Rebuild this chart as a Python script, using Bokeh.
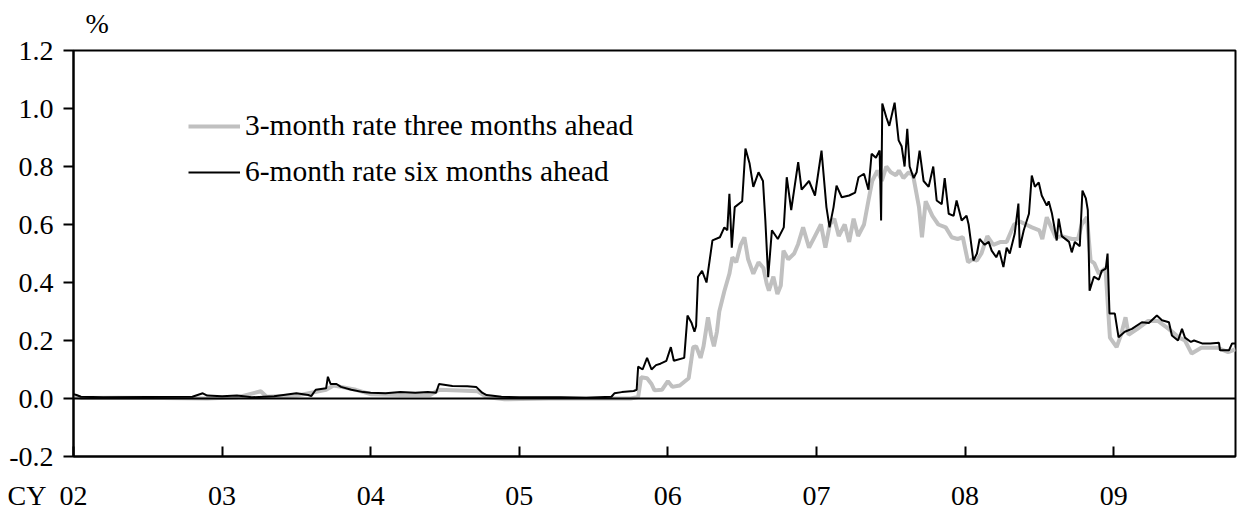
from bokeh.plotting import figure
from bokeh.models import (Range1d, FixedTicker, Span, Label, Legend, LegendItem)
from bokeh.embed import file_html
from bokeh.resources import INLINE

# ---- data (decimal years, percent) ----
six_month_t = [
    2002.000, 2002.02, 2002.05, 2002.2, 2002.5, 2002.8, 2002.87, 2002.9, 2003.0, 2003.1,
    2003.2, 2003.35, 2003.5, 2003.58, 2003.6, 2003.63, 2003.7, 2003.712, 2003.73, 2003.77,
    2003.8, 2003.87, 2003.95, 2004.0, 2004.1, 2004.2, 2004.3, 2004.385, 2004.44, 2004.46,
    2004.55, 2004.65, 2004.71, 2004.75, 2004.78, 2004.88, 2005.0, 2005.28, 2005.45, 2005.62,
    2005.64, 2005.69, 2005.77, 2005.79, 2005.80, 2005.83, 2005.86, 2005.89, 2005.92, 2005.95,
    2005.99, 2006.02, 2006.04, 2006.11, 2006.132, 2006.16, 2006.179, 2006.19, 2006.203, 2006.23,
    2006.26, 2006.30, 2006.35, 2006.38, 2006.40, 2006.414, 2006.43, 2006.45, 2006.50, 2006.522,
    2006.55, 2006.575, 2006.61, 2006.64, 2006.656, 2006.675, 2006.70, 2006.74, 2006.78, 2006.80,
    2006.83, 2006.85, 2006.877, 2006.90, 2006.95, 2006.99, 2007.034, 2007.067, 2007.088, 2007.115,
    2007.135, 2007.17, 2007.22, 2007.26, 2007.283, 2007.32, 2007.35, 2007.371, 2007.40, 2007.425,
    2007.435, 2007.443, 2007.47, 2007.49, 2007.526, 2007.553, 2007.573, 2007.593, 2007.611, 2007.627,
    2007.654, 2007.674, 2007.694, 2007.721, 2007.755, 2007.786, 2007.809, 2007.843, 2007.863, 2007.890,
    2007.923, 2007.943, 2007.977, 2008.01, 2008.024, 2008.056, 2008.08, 2008.098, 2008.132, 2008.159,
    2008.179, 2008.21, 2008.23, 2008.258, 2008.28, 2008.301, 2008.334, 2008.359, 2008.368, 2008.395,
    2008.43, 2008.449, 2008.47, 2008.496, 2008.516, 2008.55, 2008.563, 2008.584, 2008.617, 2008.63,
    2008.651, 2008.70, 2008.718, 2008.739, 2008.772, 2008.790, 2008.813, 2008.826, 2008.838, 2008.867,
    2008.90, 2008.92, 2008.947, 2008.959, 2008.972, 2009.008, 2009.033, 2009.075, 2009.123, 2009.19,
    2009.237, 2009.291, 2009.325, 2009.372, 2009.392, 2009.433, 2009.460, 2009.48, 2009.52, 2009.541,
    2009.595, 2009.65, 2009.709, 2009.716, 2009.776, 2009.797, 2009.82,
]
six_month_v = [
    0.015, 0.012, 0.006, 0.004, 0.005, 0.006, 0.018, 0.010, 0.008, 0.010,
    0.004, 0.008, 0.018, 0.012, 0.008, 0.030, 0.035, 0.075, 0.050, 0.050,
    0.040, 0.030, 0.022, 0.020, 0.018, 0.022, 0.020, 0.022, 0.020, 0.050,
    0.043, 0.042, 0.040, 0.020, 0.012, 0.006, 0.004, 0.004, 0.003, 0.006,
    0.018, 0.022, 0.026, 0.030, 0.110, 0.100, 0.140, 0.100, 0.115, 0.120,
    0.130, 0.177, 0.130, 0.140, 0.286, 0.260, 0.230, 0.250, 0.420, 0.440,
    0.400, 0.545, 0.556, 0.590, 0.580, 0.706, 0.520, 0.660, 0.680, 0.862,
    0.810, 0.730, 0.780, 0.750, 0.614, 0.418, 0.580, 0.550, 0.590, 0.763,
    0.650, 0.720, 0.815, 0.720, 0.750, 0.700, 0.855, 0.660, 0.590, 0.660,
    0.734, 0.694, 0.700, 0.710, 0.763, 0.775, 0.720, 0.844, 0.830, 0.855,
    0.614, 1.017, 0.970, 0.940, 1.020, 0.890, 0.870, 0.800, 0.930, 0.800,
    0.760, 0.780, 0.855, 0.750, 0.730, 0.800, 0.683, 0.670, 0.760, 0.637,
    0.630, 0.683, 0.614, 0.630, 0.600, 0.476, 0.500, 0.550, 0.530, 0.540,
    0.510, 0.487, 0.510, 0.453, 0.520, 0.500, 0.568, 0.672, 0.520, 0.580,
    0.637, 0.769, 0.730, 0.745, 0.700, 0.665, 0.680, 0.640, 0.545, 0.620,
    0.560, 0.540, 0.504, 0.540, 0.525, 0.717, 0.690, 0.650, 0.372, 0.420,
    0.410, 0.440, 0.448, 0.500, 0.293, 0.293, 0.211, 0.230, 0.240, 0.263,
    0.260, 0.286, 0.270, 0.263, 0.217, 0.200, 0.240, 0.210, 0.195, 0.200,
    0.190, 0.190, 0.192, 0.166, 0.166, 0.190, 0.190,
]

three_month_t = [
    2002.000, 2002.05, 2002.3, 2002.6, 2002.9, 2003.1, 2003.26, 2003.3, 2003.5, 2003.6,
    2003.7, 2003.75, 2003.8, 2003.9, 2004.0, 2004.2, 2004.4, 2004.46, 2004.6, 2004.72,
    2004.78, 2004.9, 2005.2, 2005.5, 2005.75, 2005.80, 2005.82, 2005.86, 2005.89, 2005.91,
    2005.96, 2006.00, 2006.03, 2006.08, 2006.14, 2006.17, 2006.19, 2006.22, 2006.24, 2006.27,
    2006.29, 2006.31, 2006.33, 2006.346, 2006.38, 2006.414, 2006.434, 2006.46, 2006.49, 2006.515,
    2006.54, 2006.575, 2006.61, 2006.643, 2006.665, 2006.68, 2006.71, 2006.737, 2006.76, 2006.778,
    2006.81, 2006.85, 2006.877, 2006.91, 2006.95, 2006.99, 2007.03, 2007.06, 2007.09, 2007.12,
    2007.15, 2007.19, 2007.22, 2007.25, 2007.28, 2007.32, 2007.35, 2007.375, 2007.41, 2007.44,
    2007.47, 2007.50, 2007.535, 2007.555, 2007.585, 2007.62, 2007.65, 2007.69, 2007.71, 2007.735,
    2007.78, 2007.82, 2007.87, 2007.91, 2007.95, 2007.985, 2008.02, 2008.05, 2008.08, 2008.11,
    2008.15, 2008.19, 2008.24, 2008.28, 2008.33, 2008.37, 2008.41, 2008.45, 2008.50, 2008.52,
    2008.55, 2008.58, 2008.61, 2008.65, 2008.72, 2008.76, 2008.785, 2008.82, 2008.845, 2008.87,
    2008.90, 2008.945, 2008.975, 2009.02, 2009.05, 2009.08, 2009.10, 2009.16, 2009.23, 2009.30,
    2009.37, 2009.44, 2009.48, 2009.525, 2009.59, 2009.70, 2009.77, 2009.82,
]
three_month_v = [
    0.008, 0.002, 0.003, 0.002, 0.000, 0.004, 0.025, 0.006, 0.010, 0.020,
    0.030, 0.045, 0.040, 0.030, 0.015, 0.012, 0.012, 0.030, 0.028, 0.025,
    0.005, -0.003, 0.000, 0.000, 0.000, 0.005, 0.073, 0.070, 0.050, 0.028,
    0.030, 0.060, 0.040, 0.045, 0.070, 0.177, 0.180, 0.140, 0.180, 0.280,
    0.220, 0.180, 0.230, 0.300, 0.370, 0.430, 0.487, 0.470, 0.530, 0.556,
    0.480, 0.430, 0.470, 0.450, 0.396, 0.372, 0.420, 0.360, 0.390, 0.510,
    0.480, 0.500, 0.533, 0.590, 0.520, 0.560, 0.600, 0.520, 0.600, 0.620,
    0.560, 0.600, 0.540, 0.620, 0.560, 0.600, 0.683, 0.750, 0.786, 0.750,
    0.800, 0.780, 0.770, 0.786, 0.760, 0.780, 0.770, 0.660, 0.556, 0.680,
    0.630, 0.600, 0.590, 0.556, 0.550, 0.556, 0.470, 0.480, 0.476, 0.500,
    0.560, 0.530, 0.540, 0.540, 0.600, 0.610, 0.600, 0.590, 0.580, 0.550,
    0.625, 0.590, 0.555, 0.560, 0.550, 0.550, 0.600, 0.625, 0.476, 0.466,
    0.430, 0.450, 0.210, 0.177, 0.220, 0.280, 0.220, 0.240, 0.267, 0.267,
    0.240, 0.210, 0.200, 0.155, 0.175, 0.175, 0.160, 0.170,
]

year_ticks = [2002, 2003, 2004, 2005, 2006, 2007, 2008, 2009]
year_labels = ["02", "03", "04", "05", "06", "07", "08", "09"]
y_ticks = [-0.2, 0.0, 0.2, 0.4, 0.6, 0.8, 1.0, 1.2]
series_names = ["3-month rate three months ahead", "6-month rate six months ahead"]
unit_text = "%"
period_text = "CY"

FONT = "Liberation Serif"
FS = "28px"

p = figure(frame_width=1162, frame_height=406,
           x_range=Range1d(2002.0, 2009.82), y_range=Range1d(-0.2, 1.2),
           output_backend="svg", toolbar_location=None,
           min_border_left=73, min_border_right=2, min_border_top=50, min_border_bottom=55)
p.background_fill_color = "white"
p.border_fill_color = "white"
p.outline_line_color = "black"
p.outline_line_width = 2
p.xgrid.visible = False
p.ygrid.visible = False

r3 = p.line(three_month_t, three_month_v, line_color="#c0c0c0", line_width=4)
r6 = p.line(six_month_t, six_month_v, line_color="black", line_width=2)

p.add_layout(Span(location=0, dimension="width", line_color="black", line_width=2))

# axes
xa = p.xaxis[0]
xa.ticker = FixedTicker(ticks=year_ticks)
xa.major_label_overrides = {t: l for t, l in zip(year_ticks, year_labels)}
xa.major_tick_in = 10
xa.major_tick_out = 0
xa.minor_tick_line_color = None
xa.axis_line_width = 2
xa.major_tick_line_width = 2
xa.major_label_standoff = 30
xa.major_label_text_font = FONT
xa.major_label_text_font_size = FS
xa.major_label_text_color = "black"

ya = p.yaxis[0]
ya.ticker = FixedTicker(ticks=y_ticks)
ya.major_label_overrides = {t: f"{t:.1f}" for t in y_ticks}
ya.major_tick_in = 0
ya.major_tick_out = 10
ya.minor_tick_line_color = None
ya.axis_line_width = 2
ya.major_tick_line_width = 2
ya.major_label_standoff = 10
ya.major_label_text_font = FONT
ya.major_label_text_font_size = FS
ya.major_label_text_color = "black"

# "%" above the plot and "CY" before the first year label (canvas coordinates)
p.add_layout(Label(x=85, y=23, x_units="canvas", y_units="canvas", text=unit_text,
                   text_font=FONT, text_font_size=FS, text_color="black",
                   text_baseline="middle", text_align="left"),
             "above")
p.add_layout(Label(x=7, y=495, x_units="canvas", y_units="canvas", text=period_text,
                   text_font=FONT, text_font_size=FS, text_color="black",
                   text_baseline="middle", text_align="left"),
             "below")

legend = Legend(items=[LegendItem(label=series_names[0], renderers=[r3]),
                       LegendItem(label=series_names[1], renderers=[r6])],
                location=(115, 268), orientation="vertical")
legend.border_line_color = None
legend.background_fill_alpha = 0
legend.padding = 0
legend.margin = 0
legend.spacing = 13
legend.glyph_width = 52
legend.glyph_height = 32
legend.label_height = 32
legend.label_standoff = 5
legend.label_text_font = FONT
legend.label_text_font_size = "29.5px"
legend.label_text_color = "black"
p.add_layout(legend, "center")

open("out.html", "w").write(file_html(p, INLINE))
